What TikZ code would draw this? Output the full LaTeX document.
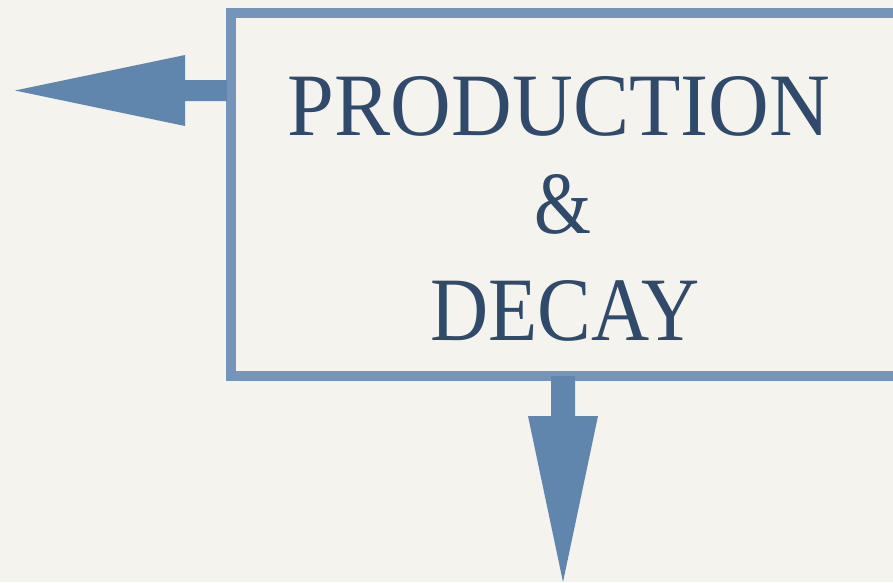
\documentclass[tikz,border=0pt]{standalone}
\usepackage{fontspec}
\setmainfont{Liberation Serif}
\usepackage{graphicx}
\definecolor{bg}{HTML}{F5F3EE}
\definecolor{boxline}{HTML}{7594B9}
\definecolor{arrowfill}{HTML}{6186AE}
\definecolor{txt}{HTML}{2F4A6A}
\tikzset{
  frame/.style={draw=boxline, line width=10pt, rectangle, inner sep=0pt},
  label/.style={text=txt, inner sep=0pt, anchor=base},
  arrowshape/.style={fill=arrowfill, draw=none}
}
\begin{document}
\begin{tikzpicture}[x=1pt,y=-1pt]
\fill[bg] (0,0) rectangle (893,582);
\useasboundingbox (0,0) rectangle (893,582);
\node[frame, minimum width=674pt, minimum height=363pt, anchor=north west] (box) at (226,8) {};
% left arrow
\coordinate (ltip) at (15,90.5);
\fill[arrowshape] ([xshift=1pt]box.west |- 0,80) -- (185,80) -- (185,55) -- (ltip) -- (185,126) -- (185,101) -- ([xshift=1pt]box.west |- 0,101) -- cycle;
% down arrow
\coordinate (dtip) at (563,582);
\fill[arrowshape] (551,376) -- (575,376) -- (575,416) -- (598,416) -- (dtip) -- (528,416) -- (551,416) -- cycle;
% text
\node[label] (t1) at (559,135) {\resizebox{542pt}{59pt}{\fontsize{80}{80}\selectfont PRODUCTION}};
\node[label] (t2) at (563,233) {\resizebox{57pt}{59pt}{\fontsize{80}{80}\selectfont \&}};
\node[label] (t3) at (565,340) {\resizebox{270pt}{60pt}{\fontsize{80}{80}\selectfont DECAY}};
\end{tikzpicture}
\end{document}
